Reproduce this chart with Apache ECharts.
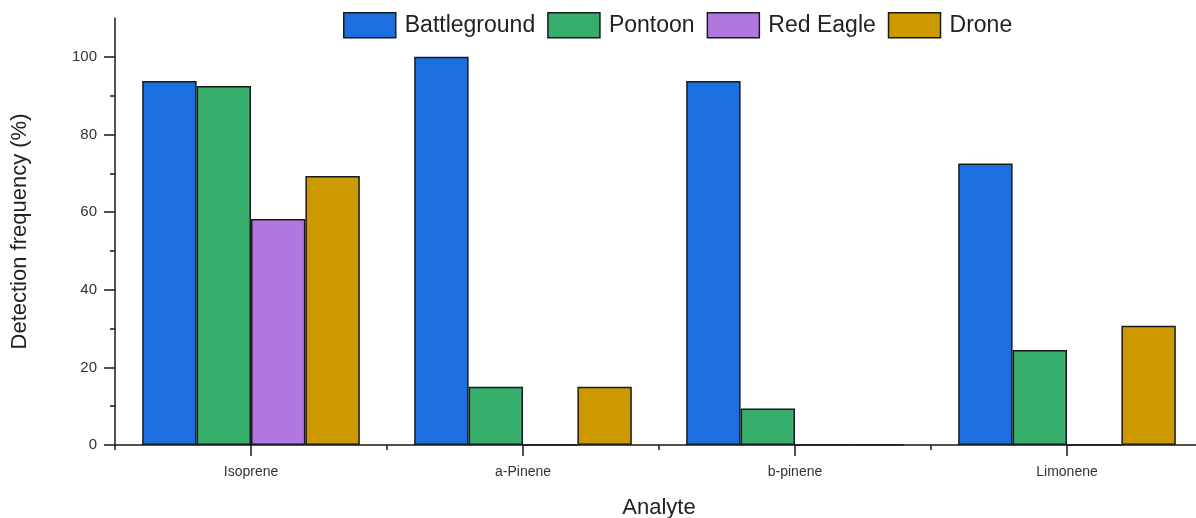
<!DOCTYPE html>
<html>
<head>
<meta charset="utf-8">
<title>Detection frequency by analyte</title>
<script src="https://cdn.jsdelivr.net/npm/echarts@6/dist/echarts.min.js"></script>
<style>
  html, body { margin: 0; padding: 0; background: #ffffff; }
  #chart { width: 1196px; height: 518px; }
</style>
</head>
<body>
<div id="chart"></div>
<script>
// Analytes on the x axis
const categories = ['Isoprene', 'a-Pinene', 'b-pinene', 'Limonene'];

// Detection frequency (%) per site
const battleground = [93.8, 100, 93.8, 72.5];
const pontoon      = [92.5, 15.0, 9.4, 24.5];
const redEagle     = [58.2, 0, 0, 0];
const drone        = [69.3, 15.0, 0, 30.7];

const seriesNames  = ['Battleground', 'Pontoon', 'Red Eagle', 'Drone'];
const seriesColors = ['#1b6fde', '#37ad6b', '#b177de', '#cc9900'];

// Y axis ticks
const yMajorTicks = [0, 20, 40, 60, 80, 100];
const yMinorTicks = [10, 30, 50, 70, 90];

const FONT = '"Liberation Sans", Arial, sans-serif';

const chart = echarts.init(document.getElementById('chart'), null, { renderer: 'canvas' });

const values = [battleground, pontoon, redEagle, drone];

const series = seriesNames.map((name, i) => ({
  name: name,
  type: 'bar',
  xAxisIndex: 0,
  yAxisIndex: 0,
  data: values[i],
  barGap: '0%',
  barCategoryGap: '20%',
  itemStyle: {
    color: seriesColors[i],
    borderColor: '#1a1a1a',
    borderWidth: 1.5
  },
  emphasis: { disabled: true }
}));

chart.setOption({
  animation: false,
  backgroundColor: '#ffffff',
  legend: {
    data: seriesNames,
    left: 343,
    top: 12,
    padding: 0,
    itemWidth: 52,
    itemHeight: 25,
    itemGap: 12,
    icon: 'rect',
    itemStyle: { borderColor: '#1a1a1a', borderWidth: 1.5 },
    textStyle: {
      fontFamily: FONT,
      fontSize: 23,
      color: '#222222',
      padding: [0, 0, 0, 4]
    }
  },
  grid: {
    left: 115,
    top: 18,
    width: 1088,
    height: 427,
    containLabel: false,
    outerBoundsMode: 'none'
  },
  xAxis: [
    {
      type: 'category',
      data: categories,
      position: 'bottom',
      name: 'Analyte',
      nameLocation: 'middle',
      nameGap: 52,
      nameTextStyle: { fontFamily: FONT, fontSize: 22, color: '#222222' },
      axisLine: { show: true, lineStyle: { color: '#1a1a1a', width: 1.5 } },
      axisTick: {
        show: true,
        alignWithLabel: true,
        length: 11,
        lineStyle: { color: '#1a1a1a', width: 1.5 }
      },
      axisLabel: {
        margin: 20,
        fontFamily: FONT,
        fontSize: 14,
        color: '#333333'
      },
      splitLine: { show: false }
    },
    {
      // boundary ticks between categories
      type: 'category',
      data: categories,
      position: 'bottom',
      gridIndex: 0,
      axisLine: { show: false },
      axisTick: {
        show: true,
        alignWithLabel: false,
        length: 5,
        lineStyle: { color: '#1a1a1a', width: 1.5 }
      },
      axisLabel: { show: false },
      splitLine: { show: false }
    }
  ],
  yAxis: [
    {
      type: 'value',
      min: 0,
      max: 110,
      interval: 20,
      name: 'Detection frequency (%)',
      nameLocation: 'middle',
      nameGap: 84,
      nameRotate: 90,
      nameTextStyle: { fontFamily: FONT, fontSize: 22, color: '#222222' },
      axisLine: { show: true, lineStyle: { color: '#1a1a1a', width: 1.5 } },
      axisTick: {
        show: true,
        length: 11,
        customValues: yMajorTicks,
        lineStyle: { color: '#1a1a1a', width: 1.5 }
      },
      axisLabel: {
        customValues: yMajorTicks,
        margin: 18,
        fontFamily: FONT,
        fontSize: 15,
        color: '#333333'
      },
      splitLine: { show: false }
    },
    {
      // minor ticks on the value axis
      type: 'value',
      min: 0,
      max: 110,
      interval: 10,
      position: 'left',
      axisLine: { show: false },
      axisTick: {
        show: true,
        length: 5,
        customValues: yMinorTicks,
        lineStyle: { color: '#1a1a1a', width: 1.5 }
      },
      axisLabel: { show: false },
      splitLine: { show: false }
    }
  ],
  series: series
});
</script>
</body>
</html>
